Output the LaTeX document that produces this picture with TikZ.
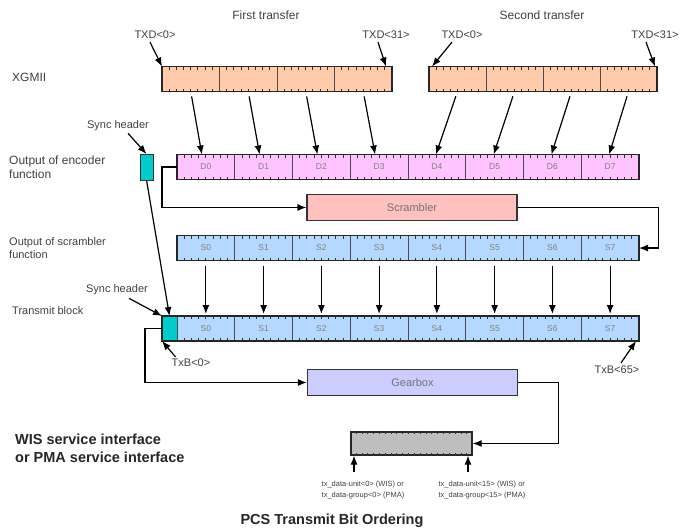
\documentclass[tikz,border=0pt]{standalone}
\usepackage{fontspec}
\setmainfont{Liberation Sans}
\usetikzlibrary{arrows.meta,calc}
\definecolor{peach}{HTML}{FFCBAA}
\definecolor{pinkenc}{HTML}{FFC4FF}
\definecolor{bluescr}{HTML}{B4D8FF}
\definecolor{syncc}{HTML}{00CCCC}
\definecolor{scrfill}{HTML}{FFC0C0}
\definecolor{gearfill}{HTML}{CCCCFF}
\definecolor{grayfill}{HTML}{BEBEBE}
\newcommand\segticks[2]{%
  \foreach \k in {1,...,#2}{%
    \draw[tick] ($(#1.north west)!{\k/(#2+1)}!(#1.north east)$) -- ++(0,3);
    \draw[tick] ($(#1.south west)!{\k/(#2+1)}!(#1.south east)$) -- ++(0,-3);
  }}
\begin{document}
\begin{tikzpicture}[x=1pt,y=-1pt,
  seg/.style={draw=black!70, line width=1pt, minimum height=25pt, inner sep=0pt, outer sep=0pt,
    font=\fontsize{8.5}{9}\selectfont, text=black!50},
  syncbox/.style={draw=black!80, line width=1pt, fill=syncc, inner sep=0pt, outer sep=0pt},
  box/.style={draw=black!80, line width=1.2pt, minimum height=26pt, minimum width=210pt,
    inner sep=0pt, font=\fontsize{11}{12}\selectfont, text=black!55},
  lab/.style={font=\fontsize{12}{14}\selectfont, text=black!75, inner sep=0pt, align=left},
  slab/.style={font=\fontsize{11}{13}\selectfont, text=black!75, inner sep=0pt, align=left},
  tlab/.style={font=\fontsize{7.5}{11}\selectfont, text=black!75, inner sep=0pt, align=left},
  blab/.style={font=\fontsize{14.5}{18}\selectfont\bfseries, text=black!85, inner sep=0pt, align=left},
  outline/.style={draw=black!85, line width=1.4pt},
  tick/.style={line width=0.9pt, black!80},
  arr/.style={-{Latex[length=9pt,width=7pt]}, line width=1.2pt},
]
\useasboundingbox (0,0) rectangle (684,531);

% titles
\node[lab] (ft) at (266,15) {First transfer};
\node[lab] (st) at (542,15) {Second transfer};
\node[lab, anchor=west] (xgmii) at (12,77) {XGMII};
\node[lab, anchor=west] (oenc) at (9,167) {Output of encoder\\function};
\node[slab, anchor=west] (oscr) at (9,248) {Output of scrambler\\function};
\node[slab, anchor=west] (tb) at (12,311) {Transmit block};
\node[blab, anchor=west] (wis) at (15,448) {WIS service interface\\or PMA service interface};
\node[font=\fontsize{14.5}{16}\selectfont\bfseries, text=black!85, inner sep=0pt] (cap) at (332,521) {PCS Transmit Bit Ordering};

% XGMII transfers
\foreach \i in {0,...,3} {
  \node[seg, fill=peach, minimum width=57.5pt] (xa\i) at ({190.75+57.5*\i},79) {};
  \node[seg, fill=peach, minimum width=57pt] (xb\i) at ({457.5+57*\i},79) {};
}
\foreach \n in {xa0,xa1,xa2,xa3,xb0,xb1,xb2,xb3} {\segticks{\n}{7}}
\draw[outline] (xa0.north west) rectangle (xa3.south east);
\draw[outline] (xb0.north west) rectangle (xb3.south east);

% TXD labels
\node[slab] (txa0) at (155,35) {TXD<0>};
\node[slab] (txa31) at (386,35) {TXD<31>};
\node[slab] (txb0) at (462,35) {TXD<0>};
\node[slab] (txb31) at (655,35) {TXD<31>};
\draw[arr] (txa0.south) ++(-5,3) coordinate (c1) (c1) -- (xa0.north west);
\draw[arr] (txa31.south) ++(-8,3) coordinate (c2) (c2) -- ($(xa3.north east)+(-6,0)$);
\draw[arr] (txb0.south) ++(-10,3) coordinate (c3) (c3) -- ($(xb0.north west)+(3,0)$);
\draw[arr] (txb31.south) ++(-9,3) coordinate (c4) (c4) -- ($(xb3.north east)+(-2,0)$);

% encoder output
\node[syncbox, minimum width=13pt, minimum height=26pt] (sync1) at (146.5,167) {};
\foreach \i in {0,...,7} {
  \node[seg, fill=pinkenc, minimum width=57.75pt] (d\i) at ({205.875+57.75*\i},167) {D\i};
}
\foreach \i in {0,...,7} {\segticks{d\i}{7}}
\draw[outline] (d0.north west) rectangle (d7.south east);
\foreach \i in {0,...,3} {
  \pgfmathtruncatemacro\j{\i+4}
  \draw[arr, shorten <=5pt] (xa\i.south) -- ($(d\i.north)+(-4,0)$);
  \draw[arr, shorten <=5pt] (xb\i.south) -- ($(d\j.north)+(-1,0)$);
}

% sync header 1
\node[slab] (sh1) at (118,126) {Sync header};
\draw[arr] (sh1.south) ++(10,2) coordinate (c5) (c5) -- (sync1.north);

% scrambler
\node[box, fill=scrfill] (scr) at (412,207.5) {Scrambler};
\draw[arr] (d0.west) -- ++(-15,0) |- (scr.west);

% scrambled output
\foreach \i in {0,...,7} {
  \node[seg, fill=bluescr, minimum width=57.75pt] (s\i) at ({205.875+57.75*\i},248) {S\i};
}
\foreach \i in {0,...,7} {\segticks{s\i}{7}}
\draw[outline] (s0.north west) rectangle (s7.south east);
\draw[arr] (scr.east) -- ++(141,0) |- (s7.east);

% transmit block
\node[syncbox, minimum width=15pt, minimum height=25pt] (sync2) at (169.5,328.5) {};
\foreach \i in {0,...,7} {
  \node[seg, fill=bluescr, minimum width=57.75pt] (t\i) at ({205.875+57.75*\i},328.5) {S\i};
}
\foreach \i in {0,...,7} {\segticks{t\i}{7}}
\draw[outline] (sync2.north west) rectangle (t7.south east);
\foreach \i in {0,...,7} {
  \draw[arr, shorten <=5pt, shorten >=2pt] (s\i.south) -- (t\i.north);
}
\draw[arr] (sync1.south) -- (sync2.north);

% sync header 2
\node[slab] (sh2) at (117,290) {Sync header};
\draw[arr] (sh2.south) ++(12,3) coordinate (c6) (c6) -- (sync2.north west);

% TxB labels
\node[slab] (txb0l) at (191,363) {TxB<0>};
\node[slab] (txb65) at (617,370) {TxB<65>};
\draw[arr] (txb0l.north west) ++(4,-2) coordinate (c7) (c7) -- (sync2.south west);
\draw[arr] (txb65.north) ++(4,-3) coordinate (c8) (c8) -- ($(t7.south east)+(-3,0)$);

% gearbox
\node[box, fill=gearfill] (gear) at (412.5,382.5) {Gearbox};
\draw[arr] (sync2.west) -- ++(-17,0) |- (gear.west);

% gray output box
\node[draw=black!85, line width=1.3pt, fill=grayfill, minimum width=121pt, minimum height=23pt, inner sep=0pt] (gray) at (411.5,443.5) {};
\segticks{gray}{20}
\draw[arr] (gear.east) -- ++(40,0) |- (gray.east);

% output labels
\coordinate (u0) at (354,472);
\coordinate (u15) at (468,472);
\draw[arr] (u0) -- (u0 |- gray.south);
\draw[arr] (u15) -- (u15 |- gray.south);
\node[tlab, anchor=north] (l0) at (363,481) {tx\_data-unit<0> (WIS) or\\tx\_data-group<0> (PMA)};
\node[tlab, anchor=north] (l15) at (482,481) {tx\_data-unit<15> (WIS) or\\tx\_data-group<15> (PMA)};
\end{tikzpicture}
\end{document}
